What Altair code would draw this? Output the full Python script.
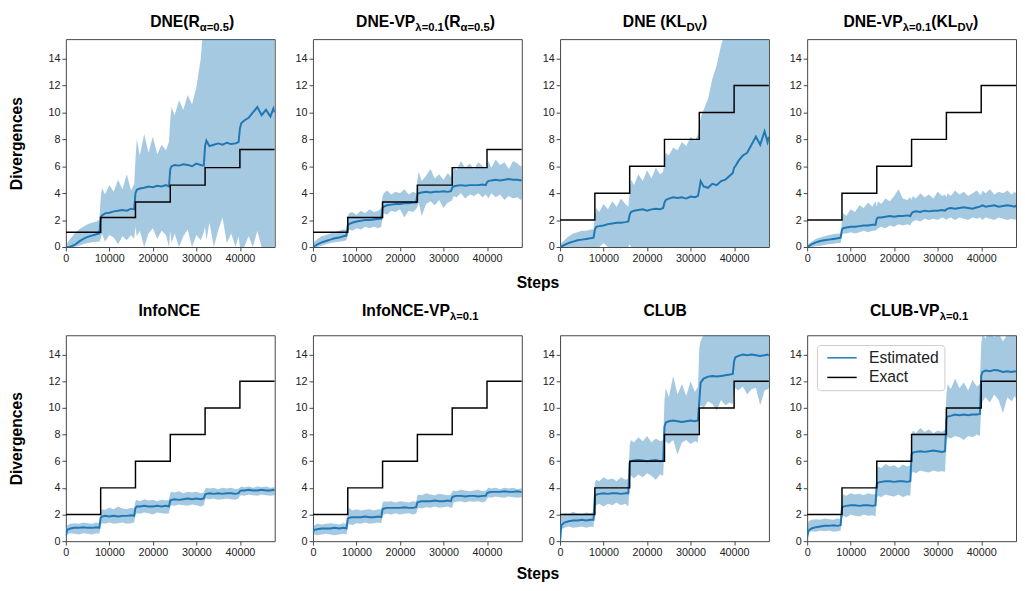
import altair as alt
import pandas as pd

# ---------------- data ----------------
STEPS = [
    0, 300, 1000, 2000, 3000, 4000, 5000, 6000, 7000, 7700,
    8000, 8300, 9000, 10000, 11000, 12000, 13000, 14000, 15000, 15700,
    16000, 16300, 17000, 18000, 19000, 20000, 21000, 22000, 23000, 23700,
    24000, 24300, 25000, 26000, 27000, 28000, 29000, 30000, 31000, 31700,
    32000, 32300, 33000, 34000, 35000, 36000, 37000, 38000, 39000, 39700,
    40000, 40300, 41000, 42000, 43000, 44000, 45000, 46000, 47000, 47700,
    48000]

BOUNDS = [0, 8000, 16000, 24000, 32000, 40000, 48000]
EXACT_RENYI = [1.1, 2.2, 3.35, 4.6, 5.9, 7.25]
EXACT_KL = [2, 4, 6, 8, 10, 12]

X_TICKS = [0, 10000, 20000, 30000, 40000]
Y_TICKS = [0, 2, 4, 6, 8, 10, 12, 14]

# DNE (R alpha=0.5)
DNE_R_MEAN = [
    0.0, 0.0, 0.02, 0.15, 0.4, 0.6, 0.75, 0.85, 0.95, 1.0,
    2.2, 2.35, 2.5, 2.55, 2.65, 2.7, 2.75, 2.7, 2.85, 2.8,
    4.0, 4.25, 4.35, 4.4, 4.5, 4.45, 4.55, 4.5, 4.6, 4.5,
    5.8, 6.0, 6.1, 6.05, 6.15, 6.1, 6.0, 6.2, 6.1, 6.05,
    7.5, 7.9, 7.5, 7.6, 7.7, 7.6, 7.75, 7.65, 7.7, 7.8,
    8.8, 9.2, 9.4, 9.6, 10.0, 10.4, 9.8, 10.2, 9.7, 10.3,
    10.0]
DNE_R_HI = [
    0.0, 0.3, 0.6, 1.0, 1.3, 1.5, 1.7, 1.8, 1.9, 2.0,
    3.6, 4.4, 3.9, 4.6, 4.1, 5.0, 4.3, 5.4, 4.2, 4.7,
    6.5, 8.0, 6.8, 8.4, 7.0, 8.2, 6.9, 7.6, 7.2, 7.8,
    9.5, 10.4, 9.8, 10.9, 10.2, 11.3, 10.6, 11.9, 14.0, 17.0,
    17.0, 17.0, 17.0, 17.0, 17.0, 17.0, 17.0, 17.0, 17.0, 17.0,
    17.0, 17.0, 17.0, 17.0, 17.0, 17.0, 17.0, 17.0, 17.0, 17.0,
    17.0]
DNE_R_LO = [
    0.0, 0.0, 0.0, 0.0, 0.1, 0.2, 0.3, 0.35, 0.4, 0.4,
    0.6, 1.0, 0.4, 0.9, 0.7, 0.2, 0.8, 0.5, 0.9, 0.6,
    1.5, 0.8, 1.2, 0.0, 1.0, 1.4, 0.6, 1.2, 0.9, 0.0,
    1.2, 0.3, 1.0, 0.0, 0.8, 1.3, 0.0, 0.9, 0.5, 1.1,
    1.5, 0.5, 1.8, 0.0, 1.2, 2.2, 0.3, 1.0, 0.0, 0.8,
    0.0, 0.0, 0.0, 0.8, 0.0, 1.2, 0.0, 0.0, 0.0, 0.0,
    0.0]

# DNE-VP (R alpha=0.5)
DNEVP_R_MEAN = [
    0.0, 0.05, 0.2, 0.35, 0.45, 0.55, 0.65, 0.7, 0.8, 0.85,
    1.6, 1.7, 1.8, 1.9, 1.95, 2.0, 2.0, 2.05, 2.1, 2.1,
    2.9, 3.0, 3.1, 3.15, 3.2, 3.2, 3.25, 3.25, 3.3, 3.3,
    3.9, 4.0, 4.05, 4.1, 4.05, 4.1, 4.1, 4.15, 4.1, 4.15,
    4.4, 4.5, 4.55, 4.6, 4.55, 4.6, 4.6, 4.6, 4.65, 4.6,
    4.8, 4.9, 4.95, 5.0, 4.95, 5.0, 5.05, 5.0, 5.0, 4.95,
    5.0]
DNEVP_R_HI = [
    0.1, 0.4, 0.6, 0.8, 0.9, 1.0, 1.1, 1.2, 1.3, 1.3,
    2.3, 2.5, 2.6, 2.4, 2.7, 2.5, 2.8, 2.6, 2.7, 2.9,
    3.8, 4.0, 4.2, 3.9, 4.1, 4.0, 4.3, 3.9, 4.1, 4.0,
    5.0, 5.6, 4.9, 5.3, 5.8, 5.1, 5.4, 5.0, 5.5, 5.2,
    5.6, 6.0, 5.7, 6.4, 5.9, 6.2, 5.8, 6.3, 6.0, 5.9,
    6.0, 6.4, 5.9, 6.5, 6.1, 6.3, 5.8, 6.4, 6.2, 6.0,
    6.1]
DNEVP_R_LO = [
    0.0, 0.0, 0.0, 0.1, 0.2, 0.3, 0.35, 0.4, 0.45, 0.5,
    1.1, 1.3, 1.2, 1.4, 1.3, 1.5, 1.4, 1.5, 1.4, 1.5,
    2.3, 2.5, 2.4, 2.7, 2.6, 2.8, 2.2, 2.7, 2.6, 2.8,
    3.0, 3.3, 2.3, 3.2, 3.4, 3.1, 3.5, 2.9, 3.3, 3.4,
    3.5, 3.8, 3.7, 4.0, 3.6, 3.9, 3.8, 4.0, 3.7, 3.9,
    3.8, 3.6, 4.0, 3.7, 3.9, 3.5, 3.8, 3.6, 3.7, 3.5,
    3.6]

# DNE (KL_DV)
DNE_KL_MEAN = [
    0.0, 0.05, 0.15, 0.3, 0.4, 0.5, 0.55, 0.6, 0.65, 0.7,
    1.3, 1.5, 1.55, 1.6, 1.7, 1.75, 1.8, 1.8, 1.85, 1.9,
    2.4, 2.6, 2.7, 2.75, 2.8, 2.7, 2.8, 2.85, 2.8, 2.9,
    3.3, 3.5, 3.6, 3.7, 3.65, 3.7, 3.6, 3.75, 3.7, 3.8,
    4.3, 4.9, 4.5, 4.4, 4.7, 4.6, 4.9, 5.0, 5.3, 5.5,
    5.9, 6.0, 6.4, 6.8, 7.0, 7.6, 8.2, 7.6, 8.6, 7.8,
    8.2]
DNE_KL_HI = [
    0.0, 0.3, 0.5, 0.8, 1.0, 1.1, 1.2, 1.2, 1.3, 1.3,
    2.4, 2.9, 2.6, 3.2, 2.8, 3.4, 3.0, 3.6, 3.2, 3.0,
    4.2, 5.0, 4.6, 5.4, 4.9, 5.7, 5.1, 5.9, 5.4, 5.6,
    6.5, 7.0, 6.8, 7.4, 7.2, 7.8, 7.5, 8.2, 7.9, 8.4,
    9.0, 9.6, 10.2, 11.0, 12.5, 13.5, 15.0, 16.0, 17.0, 17.0,
    17.0, 17.0, 17.0, 17.0, 17.0, 17.0, 17.0, 17.0, 17.0, 17.0,
    17.0]
DNE_KL_LO = [
    0.0, 0.0, 0.0, 0.0, 0.0, 0.0, 0.0, 0.0, 0.0, 0.0,
    0.0, 0.0, 0.0, 0.3, 0.0, 0.0, 0.0, 0.0, 0.0, 0.0,
    0.2, 0.0, 0.0, 0.0, 0.0, 0.0, 0.0, 0.0, 0.0, 0.0,
    0.0, 0.0, 0.0, 0.0, 0.0, 0.0, 0.0, 0.0, 0.0, 0.0,
    0.0, 0.0, 0.0, 0.0, 0.0, 0.0, 0.0, 0.0, 0.0, 0.0,
    0.0, 0.0, 0.0, 0.0, 0.0, 0.0, 0.0, 0.0, 0.0, 0.0,
    0.0]

# DNE-VP (KL_DV)
DNEVP_KL_MEAN = [
    0.0, 0.05, 0.2, 0.35, 0.45, 0.5, 0.55, 0.6, 0.65, 0.7,
    1.3, 1.4, 1.45, 1.5, 1.5, 1.55, 1.6, 1.6, 1.65, 1.65,
    2.1, 2.2, 2.2, 2.25, 2.3, 2.25, 2.3, 2.3, 2.35, 2.3,
    2.5, 2.6, 2.65, 2.6, 2.7, 2.65, 2.7, 2.7, 2.75, 2.7,
    2.8, 2.85, 2.9, 2.85, 2.9, 2.95, 2.9, 2.85, 2.95, 3.0,
    3.05, 3.1, 3.0, 3.05, 3.1, 3.0, 3.05, 3.1, 3.05, 3.0,
    3.1]
DNEVP_KL_HI = [
    0.0, 0.2, 0.4, 0.6, 0.7, 0.8, 0.9, 0.95, 1.0, 1.0,
    2.0, 2.5, 2.3, 2.8, 2.6, 3.1, 2.9, 3.3, 3.0, 3.4,
    3.0, 3.4, 3.2, 3.6, 3.4, 3.8, 4.3, 3.6, 3.5, 3.7,
    3.5, 3.8, 3.6, 4.0, 3.7, 3.9, 3.6, 4.1, 3.8, 3.9,
    3.7, 4.0, 3.8, 4.2, 3.9, 4.1, 3.8, 4.0, 4.2, 3.9,
    3.9, 4.2, 4.0, 4.3, 3.9, 4.1, 4.0, 4.2, 3.9, 4.1,
    4.0]
DNEVP_KL_LO = [
    0.0, 0.0, 0.0, 0.05, 0.1, 0.15, 0.2, 0.25, 0.3, 0.3,
    0.9, 1.0, 1.0, 1.1, 1.0, 1.1, 1.2, 1.1, 1.2, 1.2,
    1.3, 1.4, 1.5, 1.4, 1.6, 1.5, 1.7, 1.6, 1.7, 1.6,
    1.8, 1.9, 2.0, 1.9, 2.1, 2.0, 2.1, 2.0, 2.2, 2.1,
    2.0, 2.1, 2.2, 2.0, 2.2, 2.1, 2.0, 2.2, 2.1, 2.2,
    2.1, 2.0, 2.2, 2.1, 2.0, 2.2, 2.1, 2.0, 2.1, 2.0,
    2.1]

# InfoNCE
INFONCE_MEAN = [
    0.4, 0.85, 0.95, 1.0, 1.0, 1.05, 1.0, 1.0, 1.05, 1.0,
    1.75, 1.85, 1.9, 1.85, 1.9, 1.85, 1.9, 1.9, 1.95, 1.9,
    2.5, 2.6, 2.6, 2.65, 2.6, 2.6, 2.65, 2.6, 2.65, 2.6,
    3.05, 3.1, 3.15, 3.1, 3.15, 3.2, 3.15, 3.2, 3.15, 3.2,
    3.5, 3.55, 3.6, 3.55, 3.6, 3.55, 3.6, 3.6, 3.55, 3.6,
    3.75, 3.8, 3.8, 3.85, 3.8, 3.8, 3.85, 3.8, 3.8, 3.85,
    3.8]
INFONCE_HI = [
    0.6, 1.2, 1.3, 1.35, 1.3, 1.4, 1.35, 1.3, 1.4, 1.35,
    2.3, 2.4, 2.35, 2.5, 2.4, 2.6, 2.45, 2.4, 2.5, 2.45,
    3.0, 3.1, 3.0, 3.15, 3.05, 3.1, 3.0, 3.1, 3.05, 3.1,
    3.6, 3.7, 3.65, 3.75, 3.6, 3.7, 3.65, 3.7, 3.6, 3.65,
    3.9, 4.0, 3.95, 4.0, 3.9, 4.0, 3.95, 4.0, 3.9, 3.95,
    4.0, 4.1, 4.05, 4.1, 4.0, 4.1, 4.05, 4.1, 4.0, 4.05,
    4.05]
INFONCE_LO = [
    0.2, 0.5, 0.6, 0.55, 0.5, 0.6, 0.55, 0.5, 0.6, 0.55,
    1.2, 1.35, 1.3, 1.4, 1.3, 1.35, 1.4, 1.3, 1.35, 1.4,
    2.0, 2.1, 2.05, 2.15, 2.1, 2.0, 2.15, 2.1, 2.05, 2.1,
    2.6, 2.7, 2.65, 2.75, 2.7, 2.65, 2.75, 2.7, 2.6, 2.7,
    3.1, 3.2, 3.15, 3.2, 3.1, 3.15, 3.2, 3.15, 3.1, 3.2,
    3.4, 3.45, 3.4, 3.5, 3.45, 3.4, 3.5, 3.45, 3.4, 3.45,
    3.45]

# InfoNCE-VP
INFONCEVP_MEAN = [
    0.7, 0.85, 0.9, 0.95, 0.95, 0.95, 1.0, 0.95, 1.0, 0.95,
    1.7, 1.75, 1.8, 1.8, 1.8, 1.85, 1.8, 1.8, 1.85, 1.8,
    2.4, 2.45, 2.5, 2.5, 2.5, 2.5, 2.55, 2.5, 2.5, 2.55,
    2.9, 2.95, 3.0, 3.0, 3.0, 3.05, 3.0, 3.0, 3.05, 3.0,
    3.3, 3.35, 3.4, 3.4, 3.35, 3.4, 3.4, 3.35, 3.4, 3.4,
    3.6, 3.65, 3.7, 3.7, 3.7, 3.75, 3.7, 3.7, 3.75, 3.7,
    3.7]
INFONCEVP_HI = [
    1.0, 1.2, 1.3, 1.25, 1.3, 1.35, 1.3, 1.25, 1.35, 1.3,
    2.2, 2.5, 2.3, 2.4, 2.3, 2.35, 2.4, 2.3, 2.4, 2.35,
    2.9, 3.0, 2.95, 3.0, 2.9, 3.0, 2.95, 2.9, 3.0, 2.95,
    3.4, 3.5, 3.45, 3.6, 3.5, 3.45, 3.55, 3.5, 3.45, 3.5,
    3.7, 3.8, 3.75, 3.85, 3.8, 3.75, 3.8, 3.85, 3.75, 3.8,
    3.9, 4.0, 3.95, 4.0, 3.9, 4.0, 3.95, 4.0, 3.9, 3.95,
    4.0]
INFONCEVP_LO = [
    0.4, 0.5, 0.45, 0.5, 0.55, 0.5, 0.45, 0.5, 0.55, 0.5,
    1.1, 1.3, 1.2, 1.35, 1.3, 1.4, 1.3, 1.35, 1.4, 1.35,
    1.9, 2.0, 2.05, 2.0, 2.1, 2.0, 2.05, 2.1, 2.0, 2.05,
    2.4, 2.5, 2.45, 2.55, 2.5, 2.6, 2.5, 2.55, 2.6, 2.5,
    2.5, 2.9, 2.95, 3.0, 2.9, 3.0, 2.95, 3.0, 2.9, 3.0,
    3.2, 3.3, 3.25, 3.35, 3.3, 3.25, 3.35, 3.3, 3.25, 3.3,
    3.3]

# CLUB
CLUB_MEAN = [
    0.0, 1.2, 1.4, 1.5, 1.55, 1.55, 1.6, 1.55, 1.6, 1.6,
    3.4, 3.5, 3.55, 3.6, 3.55, 3.6, 3.6, 3.55, 3.6, 3.6,
    5.9, 6.0, 6.05, 6.1, 6.05, 6.0, 6.05, 6.1, 6.0, 6.05,
    8.6, 8.9, 9.0, 9.05, 9.0, 8.95, 9.0, 9.05, 9.0, 9.05,
    10.5, 11.9, 12.2, 12.35, 12.4, 12.35, 12.4, 12.45, 12.5, 12.55,
    13.5, 13.8, 13.9, 14.0, 13.95, 14.0, 13.95, 13.9, 13.95, 14.0,
    13.95]
CLUB_HI = [
    1.5, 2.0, 2.1, 2.05, 2.2, 2.1, 2.05, 2.15, 2.1, 2.2,
    4.4, 4.6, 4.5, 4.8, 4.6, 4.7, 4.5, 4.8, 4.6, 4.7,
    7.2, 7.6, 7.4, 7.8, 7.5, 7.9, 7.4, 7.7, 7.5, 7.6,
    10.6, 11.5, 10.8, 12.4, 11.0, 11.8, 10.9, 12.0, 11.2, 11.6,
    14.5, 15.0, 15.5, 16.0, 16.0, 16.0, 16.0, 16.0, 16.0, 16.0,
    16.0, 16.0, 16.0, 16.0, 16.0, 16.0, 16.0, 16.0, 16.0, 16.0,
    16.0]
CLUB_LO = [
    0.0, 0.9, 1.0, 1.1, 1.0, 1.05, 1.1, 1.0, 1.1, 1.05,
    2.5, 2.7, 2.8, 2.6, 2.8, 2.7, 2.9, 2.7, 2.8, 2.6,
    4.6, 4.9, 4.7, 5.0, 4.8, 5.1, 4.9, 4.6, 5.0, 4.9,
    7.2, 7.5, 7.3, 7.6, 6.5, 7.4, 7.6, 7.3, 7.5, 7.4,
    9.5, 10.2, 10.0, 10.5, 10.3, 9.8, 10.6, 10.2, 10.4, 10.3,
    11.2, 11.5, 11.3, 11.6, 11.0, 11.4, 11.5, 10.2, 11.3, 11.4,
    11.5]

# CLUB-VP
CLUBVP_MEAN = [
    0.3, 0.8, 0.95, 1.05, 1.1, 1.15, 1.15, 1.2, 1.15, 1.2,
    2.5, 2.6, 2.65, 2.7, 2.7, 2.65, 2.7, 2.7, 2.65, 2.7,
    4.3, 4.4, 4.45, 4.5, 4.5, 4.45, 4.5, 4.5, 4.45, 4.5,
    6.5, 6.65, 6.7, 6.75, 6.7, 6.75, 6.8, 6.75, 6.7, 6.75,
    9.2, 9.35, 9.4, 9.5, 9.45, 9.5, 9.45, 9.5, 9.5, 9.55,
    12.4, 12.7, 12.8, 12.75, 12.85, 12.8, 12.7, 12.75, 12.7, 12.75,
    12.7]
CLUBVP_HI = [
    0.9, 1.5, 1.6, 1.65, 1.6, 1.7, 1.65, 1.6, 1.7, 1.65,
    3.3, 3.5, 3.4, 3.6, 3.5, 3.55, 3.45, 3.6, 3.5, 3.55,
    5.4, 5.6, 5.5, 5.8, 5.6, 5.7, 5.5, 5.75, 5.6, 5.7,
    8.0, 8.3, 8.1, 8.5, 8.2, 8.4, 8.1, 8.3, 8.2, 8.4,
    11.0, 11.8, 11.4, 12.2, 11.5, 11.9, 11.3, 12.1, 11.6, 11.8,
    14.8, 15.5, 15.2, 16.0, 15.3, 15.6, 15.0, 15.5, 15.4, 15.6,
    15.5]
CLUBVP_LO = [
    0.2, 0.6, 0.75, 0.7, 0.8, 0.75, 0.8, 0.7, 0.75, 0.8,
    1.7, 1.9, 1.8, 2.0, 1.9, 1.85, 2.0, 1.9, 1.95, 1.85,
    3.2, 3.4, 3.3, 3.5, 3.4, 3.35, 3.5, 3.3, 3.45, 3.4,
    5.0, 5.2, 5.1, 5.3, 5.2, 5.15, 5.3, 5.2, 5.25, 5.2,
    7.5, 7.8, 7.7, 7.9, 7.8, 7.6, 7.9, 7.8, 8.0, 7.9,
    10.0, 10.5, 10.8, 10.4, 11.0, 10.6, 9.6, 10.8, 10.5, 10.9,
    10.7]

TITLES = [
    [("DNE(R", False), ("\u03b1=0.5", True), (")", False)],
    [("DNE-VP", False), ("\u03bb=0.1", True), ("(R", False), ("\u03b1=0.5", True), (")", False)],
    [("DNE (KL", False), ("DV", True), (")", False)],
    [("DNE-VP", False), ("\u03bb=0.1", True), ("(KL", False), ("DV", True), (")", False)],
    [("InfoNCE", False)],
    [("InfoNCE-VP", False), ("\u03bb=0.1", True)],
    [("CLUB", False)],
    [("CLUB-VP", False), ("\u03bb=0.1", True)],
]
TITLE_LEFT = [86, 44, 64, 37, 74, 50, 85, 64]

PANELS = [
    (DNE_R_MEAN, DNE_R_LO, DNE_R_HI, EXACT_RENYI),
    (DNEVP_R_MEAN, DNEVP_R_LO, DNEVP_R_HI, EXACT_RENYI),
    (DNE_KL_MEAN, DNE_KL_LO, DNE_KL_HI, EXACT_KL),
    (DNEVP_KL_MEAN, DNEVP_KL_LO, DNEVP_KL_HI, EXACT_KL),
    (INFONCE_MEAN, INFONCE_LO, INFONCE_HI, EXACT_KL),
    (INFONCEVP_MEAN, INFONCEVP_LO, INFONCEVP_HI, EXACT_KL),
    (CLUB_MEAN, CLUB_LO, CLUB_HI, EXACT_KL),
    (CLUBVP_MEAN, CLUBVP_LO, CLUBVP_HI, EXACT_KL),
]

# ---------------- styling ----------------
BLUE = "#1f77b4"
TITLE_FONT = "Liberation Sans"
TICK_FONT = "Liberation Sans"
MAIN_FS = 16
SUB_FS = 11.5
PANEL_W = 213
ROW_H = [212, 210]
TITLE_BASE = [-12, -20]

W_BOLD = {
    "D": .722, "N": .722, "E": .667, "(": .333, ")": .333, "R": .722, "-": .333,
    "V": .667, "P": .667, " ": .278, "K": .722, "L": .611, "I": .278, "n": .611,
    "f": .333, "o": .611, "C": .722, "U": .722, "B": .722, "\u03b1": .62,
    "\u03bb": .56, "=": .584, "0": .556, ".": .278, "1": .556, "5": .556,
}


def seg_width(s, fs):
    return sum(W_BOLD.get(c, 0.6) for c in s) * fs


ONE = pd.DataFrame({"k": [0]})


def title_layers(segs, left, base_y):
    layers = []
    x = left
    for text, sub in segs:
        fs = SUB_FS if sub else MAIN_FS
        y = base_y + (4 if sub else 0)
        layers.append(
            alt.Chart(ONE).mark_text(
                text=text, font=TITLE_FONT, fontWeight="bold", fontSize=fs,
                align="left", baseline="alphabetic", color="black",
            ).encode(x=alt.value(x), y=alt.value(y))
        )
        x += seg_width(text, fs)
    return layers


def make_panel(i):
    mean, lo, hi, exact = PANELS[i]
    assert len(mean) == len(STEPS) and len(lo) == len(STEPS) and len(hi) == len(STEPS)
    row = i // 4
    col = i % 4
    h = ROW_H[row]
    df = pd.DataFrame({"step": STEPS, "mean": mean, "lo": lo, "hi": hi})
    ex = pd.DataFrame({"step": BOUNDS, "value": exact + [exact[-1]]})

    xs = alt.Scale(domain=[0, 48000], nice=False, zero=False)
    ys = alt.Scale(domain=[0, 15.45], nice=False, zero=False)
    if col == 1:
        xaxis = alt.Axis(values=X_TICKS, format="d", title="Steps", titleX=229,
                         titleAlign="center", titleAnchor="middle",
                         titlePadding=11 if row == 0 else 8,
                         labelFlush=False, labelOverlap=False)
    else:
        xaxis = alt.Axis(values=X_TICKS, format="d", title=None,
                         labelFlush=False, labelOverlap=False)
    ytitle = "Divergences" if col == 0 else None
    if ytitle:
        yaxis = alt.Axis(values=Y_TICKS, format="d", title=ytitle, titlePadding=24,
                         labelFlush=False, labelOverlap=False)
    else:
        yaxis = alt.Axis(values=Y_TICKS, format="d", title=None,
                         labelFlush=False, labelOverlap=False)

    X = alt.X("step:Q", scale=xs, axis=xaxis)
    band = alt.Chart(df).mark_area(color=BLUE, opacity=0.4, clip=True).encode(
        x=X, y=alt.Y("lo:Q", scale=ys, axis=yaxis), y2="hi:Q")

    if i == 7:
        cs = alt.Scale(domain=["Estimated", "Exact"], range=[BLUE, "black"])
        leg = alt.Legend(
            title=None, orient="top-left", offset=10, fillColor="white",
            strokeColor="#cccccc", padding=5, cornerRadius=3,
            labelFont=TICK_FONT, labelFontSize=16, labelColor="#222222",
            symbolType="M-1,0H11", symbolSize=25, symbolStrokeWidth=1.5,
            labelOffset=32, rowPadding=4,
        )
        est = alt.Chart(df).transform_calculate(series="'Estimated'").mark_line(
            strokeWidth=2, clip=True).encode(
            x=X, y=alt.Y("mean:Q", scale=ys, axis=yaxis),
            color=alt.Color("series:N", scale=cs, legend=leg))
        exl = alt.Chart(ex).transform_calculate(series="'Exact'").mark_line(
            interpolate="step-after", strokeWidth=1.5, clip=True).encode(
            x=X, y=alt.Y("value:Q", scale=ys, axis=yaxis),
            color=alt.Color("series:N", scale=cs, legend=leg))
    else:
        est = alt.Chart(df).mark_line(color=BLUE, strokeWidth=2, clip=True).encode(
            x=X, y=alt.Y("mean:Q", scale=ys, axis=yaxis))
        exl = alt.Chart(ex).mark_line(interpolate="step-after", color="black",
                                      strokeWidth=1.5, clip=True).encode(
            x=X, y=alt.Y("value:Q", scale=ys, axis=yaxis))

    layers = [band, est, exl] + title_layers(TITLES[i], TITLE_LEFT[i], TITLE_BASE[row])
    return alt.layer(*layers).properties(width=PANEL_W, height=h)


row1 = alt.hconcat(*[make_panel(i) for i in range(4)], spacing=39, bounds="flush")
row2 = alt.hconcat(*[make_panel(i) for i in range(4, 8)], spacing=39, bounds="flush") \
    .resolve_scale(color="independent").resolve_legend(color="independent")

chart = alt.vconcat(row1, row2, spacing=11) \
    .resolve_scale(color="independent").resolve_legend(color="independent") \
    .properties(padding={"left": 0, "top": 0, "right": 0, "bottom": 0}) \
    .configure_view(stroke="#444444", strokeWidth=1) \
    .configure_axis(grid=False, domain=False, tickColor="#444444", tickSize=4,
                    tickWidth=1, labelFont=TICK_FONT, labelFontSize=11,
                    labelColor="#222222", labelPadding=2, titleFont=TITLE_FONT,
                    titleFontWeight="bold", titleFontSize=16, titleColor="black")

chart.save("out.html", embed_options={"renderer": "svg", "actions": False})
